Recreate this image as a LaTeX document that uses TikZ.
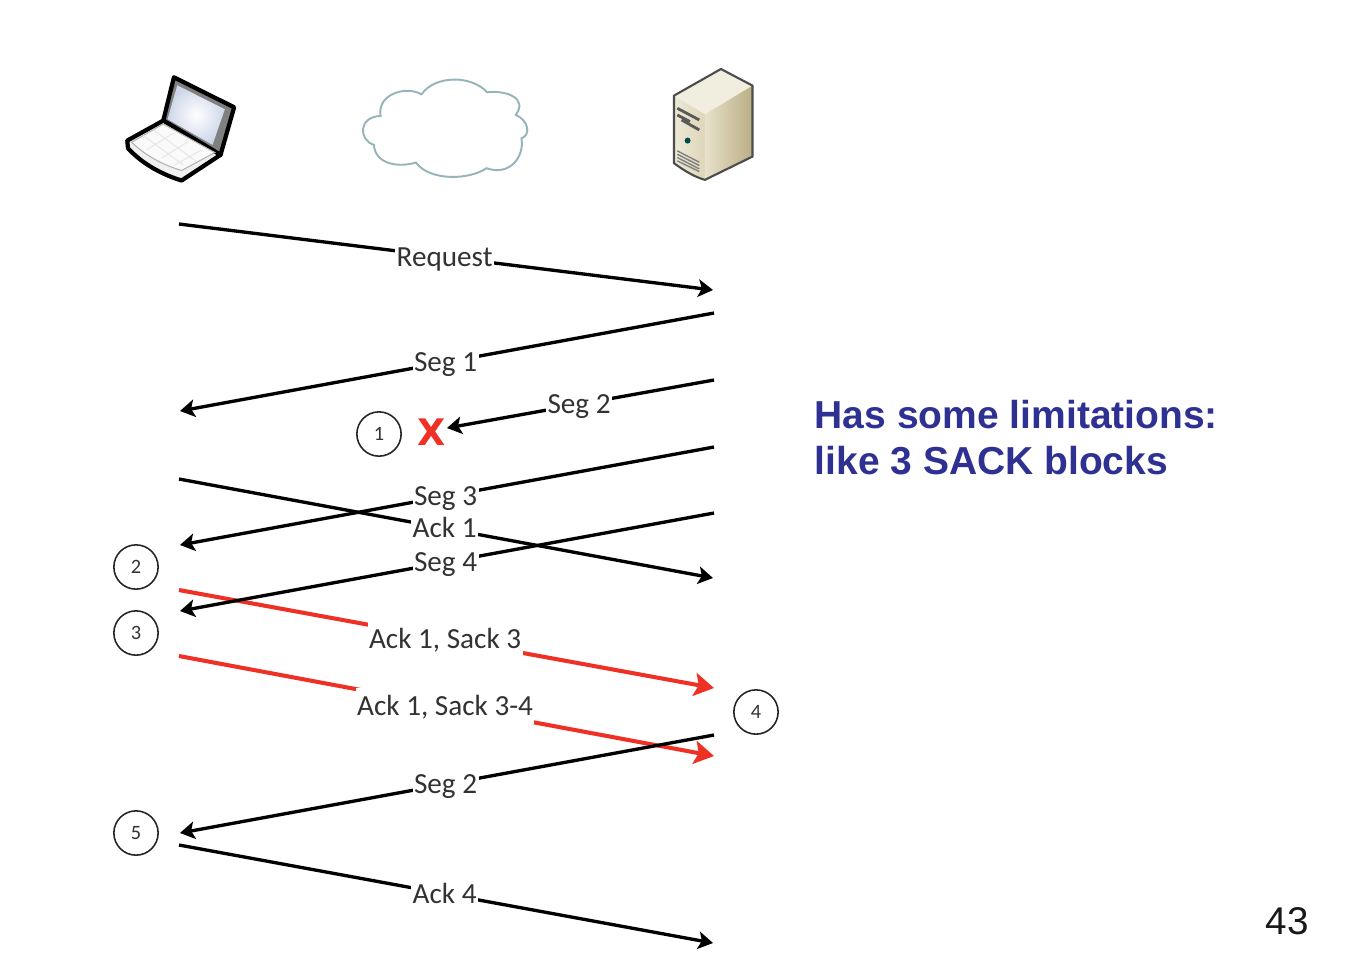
\documentclass[tikz,border=0pt]{standalone}
\usepackage{fontspec}
\setmainfont{Carlito}
\newfontfamily\headfont{Liberation Sans}
\newfontfamily\lossfont{DejaVu Sans}
\usetikzlibrary{arrows.meta}
\definecolor{lossred}{RGB}{238,49,36}
\definecolor{headblue}{RGB}{46,49,146}
\definecolor{labgray}{RGB}{50,50,50}
\definecolor{servertop}{RGB}{241,238,224}
\definecolor{serverfronta}{RGB}{238,233,214}
\definecolor{serverfrontb}{RGB}{222,214,186}
\definecolor{serversidea}{RGB}{232,225,203}
\definecolor{serversideb}{RGB}{186,174,132}
\definecolor{screenblue}{RGB}{205,214,232}
\definecolor{cloudline}{RGB}{150,180,185}
\tikzset{
	msg/.style={line width=0.95pt, -{Stealth[length=4.2pt,width=5pt,inset=1pt]}},
	sack/.style={line width=1.15pt, color=lossred, -{Stealth[length=5.6pt,width=6.6pt,inset=1.2pt]}},
	lab/.style={fill=white, xshift=-0.4pt, inner xsep=0.4pt, inner ysep=0pt, text height=7.8pt, text depth=2.6pt, text=labgray, font=\fontsize{8.3pt}{10pt}\selectfont},
	stepmark/.style={draw=black!85, circle, line width=0.45pt, minimum size=12.6pt, inner sep=0pt, text=labgray, font=\fontsize{5.8pt}{7pt}\selectfont},
}
\begin{document}
\begin{tikzpicture}[x=0.1mm, y=-0.1mm]
	\useasboundingbox (0, 0) rectangle (1366, 962);

	%%%%% LAPTOP %%%%%
	\begin{scope}[shift={(100, 50)}, x=0.0333mm, y=-0.0333mm]
		\draw[line width=1.2pt, line join=round, fill=black!50] (222, 82) -- (403, 172) -- (362, 315) -- (190, 212) -- cycle;
		\shade[inner color=white, outer color=screenblue] (232, 106) -- (375, 178) -- (338, 285) -- (203, 208) -- cycle;
		\draw[line width=1.2pt, line join=round, fill=black!6] (190, 212) -- (82, 272) -- (84, 295) .. controls (130, 345) and (190, 375) .. (245, 392) -- (362, 315) -- cycle;
		\draw[line width=0.3pt, black!30, fill=black!2] (190, 222) -- (95, 277) .. controls (140, 320) and (190, 345) .. (245, 362) -- (345, 308) -- cycle;
		\draw[line width=0.3pt, black!9] (160, 240) -- (290, 335) (130, 257) -- (250, 345) (220, 250) -- (140, 300) (265, 275) -- (185, 325) (305, 300) -- (225, 345);
	\end{scope}

	%%%%% CLOUD %%%%%
	\begin{scope}[shift={(340, 60)}, x=0.0333mm, y=-0.0333mm]
		\draw[line width=0.55pt, color=cloudline, fill=white]
			(245, 103) .. controls (285, 45) and (395, 45) .. (442, 97)
			.. controls (500, 90) and (565, 115) .. (528, 165)
			.. controls (565, 180) and (575, 225) .. (545, 235)
			.. controls (555, 290) and (510, 350) .. (440, 325)
			.. controls (390, 360) and (270, 365) .. (228, 308)
			.. controls (170, 325) and (105, 310) .. (102, 255)
			.. controls (55, 240) and (55, 170) .. (122, 168)
			.. controls (110, 105) and (195, 75) .. (245, 103) -- cycle;
	\end{scope}

	%%%%% SERVER %%%%%
	\begin{scope}[shift={(650, 55)}, x=0.0333mm, y=-0.0333mm]
		\fill[color=servertop] (213, 42) -- (308, 92) -- (165, 178) -- (72, 122) -- cycle;
		\shade[left color=serverfronta, right color=serverfrontb] (72, 122) -- (165, 178) -- (165, 375) .. controls (130, 365) and (100, 345) .. (72, 325) -- cycle;
		\shade[left color=serversidea, right color=serversideb] (165, 178) -- (308, 92) -- (308, 305) -- (165, 375) -- cycle;
		\draw[line width=0.6pt, color=black!70, line join=round] (213, 42) -- (308, 92) -- (308, 305) -- (165, 375) .. controls (130, 365) and (100, 345) .. (72, 325) -- (72, 122) -- cycle;
		\draw[line width=0.8pt, color=black!65] (82, 160) -- (148, 195) (82, 180) -- (120, 200) (95, 195) -- (148, 225);
		\fill[color=teal!60!black] (113, 257) circle (9);
		\draw[line width=0.4pt, color=black!50] (82, 288) -- (148, 322) (82, 298) -- (148, 332) (82, 308) -- (148, 342) (82, 318) -- (148, 350);
	\end{scope}

	%%%%% ENDS %%%%%
	\coordinate (reqA) at (179, 224);
	\coordinate (reqB) at (713, 290);
	\coordinate (segoneA) at (714, 313);
	\coordinate (segoneB) at (180, 411);
	\coordinate (segtwoA) at (714, 380);
	\coordinate (segtwoB) at (447, 428);
	\coordinate (segthreeA) at (714, 447);
	\coordinate (segthreeB) at (180, 545);
	\coordinate (ackoneA) at (179, 479);
	\coordinate (ackoneB) at (713, 578);
	\coordinate (segfourA) at (714, 513);
	\coordinate (segfourB) at (180, 611);
	\coordinate (sackoneA) at (179, 590);
	\coordinate (sackoneB) at (714, 688);
	\coordinate (sacktwoA) at (179, 656);
	\coordinate (sacktwoB) at (714, 756);
	\coordinate (resendA) at (714, 735);
	\coordinate (resendB) at (180, 833);
	\coordinate (ackfourA) at (179, 845);
	\coordinate (ackfourB) at (713, 943);

	%%%%% MESSAGES %%%%%
	\draw[msg] (reqA) -- node[lab] (reqlab) {Request} (reqB);
	\draw[msg] (segoneA) -- node[lab] (segonelab) {Seg 1} (segoneB);
	\draw[msg] (segtwoA) -- node[lab] (segtwolab) {Seg 2} (segtwoB);
	\draw[msg] (segthreeA) -- node[lab] (segthreelab) {Seg 3} (segthreeB);
	\draw[msg] (ackoneA) -- node[lab] (ackonelab) {Ack 1} (ackoneB);
	\draw[sack] (sackoneA) -- node[lab] (sackonelab) {Ack 1, Sack 3} (sackoneB);
	\draw[sack] (sacktwoA) -- node[lab] (sacktwolab) {Ack 1, Sack 3-4} (sacktwoB);
	\draw[msg] (segfourA) -- node[lab] (segfourlab) {Seg 4} (segfourB);
	\draw[msg] (resendA) -- node[lab] (resendlab) {Seg 2} (resendB);
	\draw[msg] (ackfourA) -- node[lab] (ackfourlab) {Ack 4} (ackfourB);

	%%%%% MARKS %%%%%
	\node[stepmark] (markone) at (379, 434) {1};
	\node[stepmark] (marktwo) at (136, 567) {2};
	\node[stepmark] (markthree) at (136, 633) {3};
	\node[stepmark] (markfour) at (756, 712) {4};
	\node[stepmark] (markfive) at (136, 833) {5};
	\node[color=lossred, inner sep=0pt, font=\lossfont\bfseries\fontsize{10.4pt}{12pt}\selectfont] (lossmark) at (432, 432) {X};

	%%%%% TEXT %%%%%
	\node[anchor=west, align=left, inner sep=0pt, text=headblue, font=\headfont\bfseries\fontsize{11.1pt}{13.1pt}\selectfont] (headnote) at (814, 438) {Has some limitations:\\like 3 SACK blocks};
	\node[inner sep=0pt, text=black!90, font=\headfont\fontsize{11pt}{12pt}\selectfont] (pagenum) at (1287, 921) {43};
\end{tikzpicture}
\end{document}
